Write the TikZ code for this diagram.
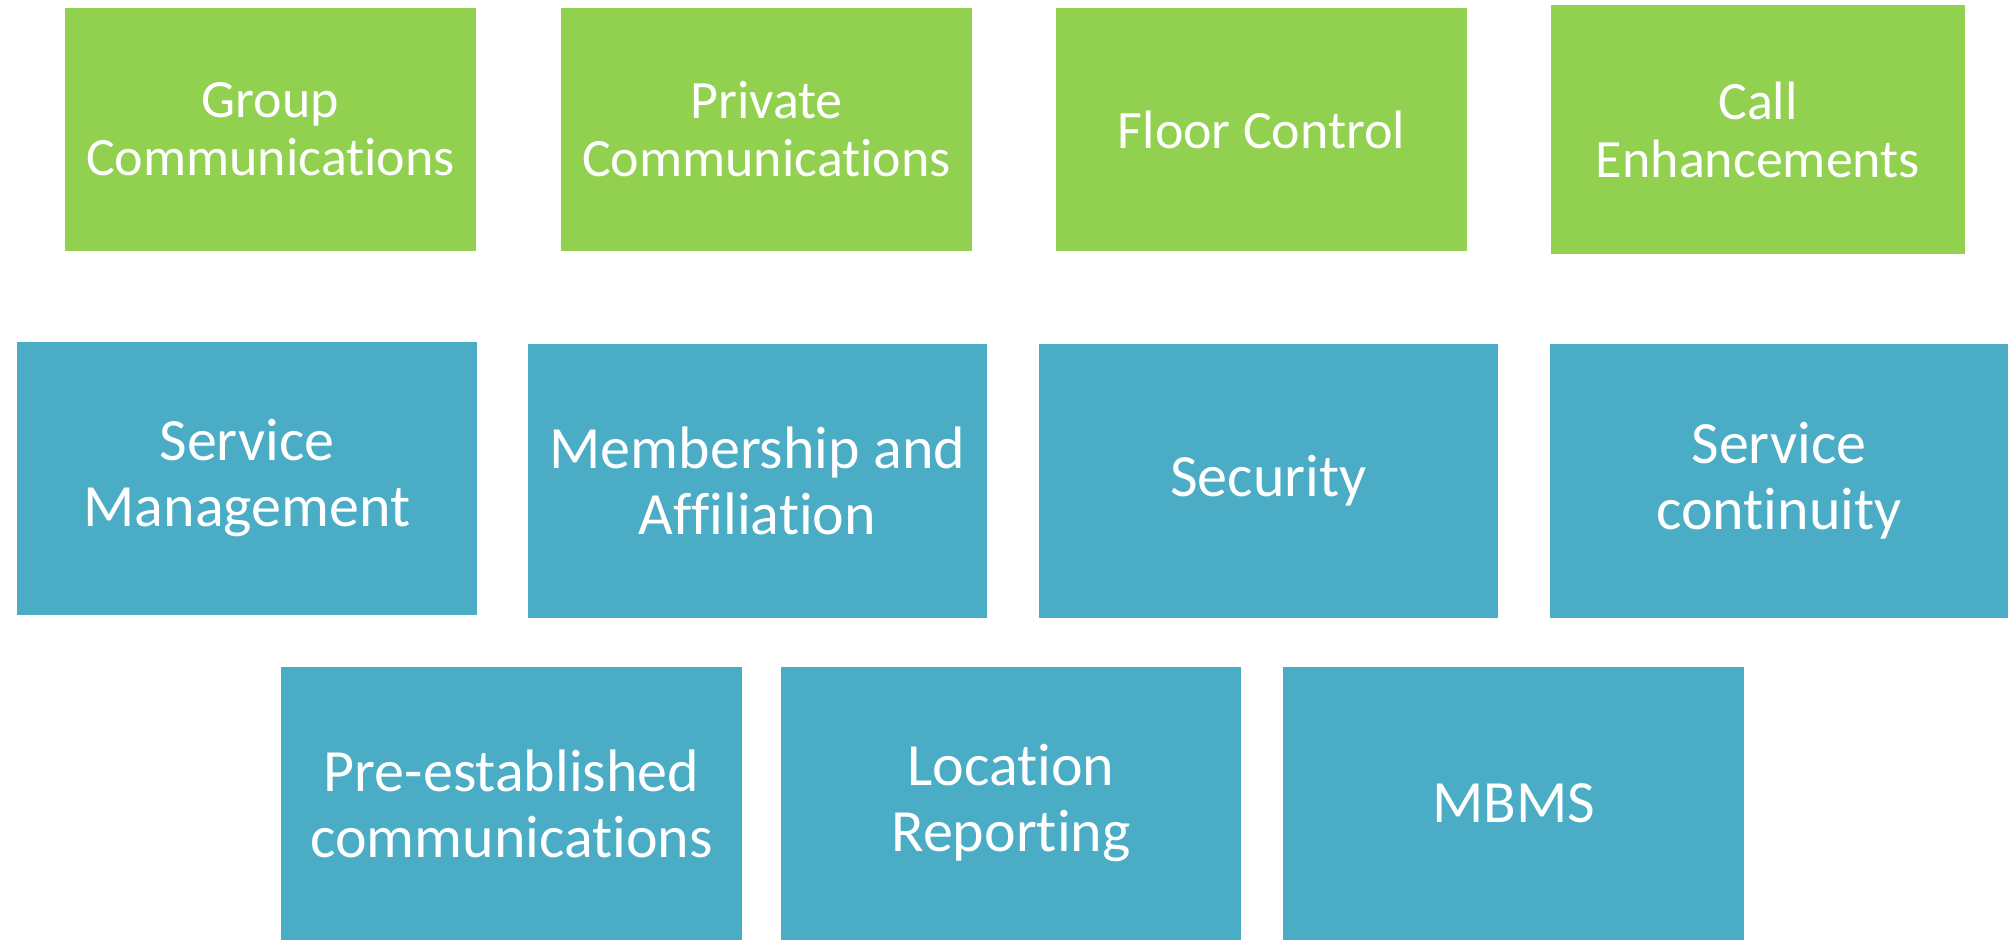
\documentclass[tikz,border=0pt]{standalone}
\usepackage{fontspec}
\setmainfont[Ligatures={NoCommon}]{Carlito}
\definecolor{boxgreen}{HTML}{92D050}
\definecolor{boxblue}{HTML}{4BACC6}
\begin{document}
\begin{tikzpicture}[x=1pt,y=-1pt,
  gbox/.style={rectangle, fill=boxgreen, draw=none, inner sep=0pt, text=white, align=center,
    font=\fontsize{54}{58}\selectfont},
  bbox/.style={rectangle, fill=boxblue, draw=none, inner sep=0pt, text=white, align=center,
    font=\fontsize{60}{66}\selectfont}]
\useasboundingbox[fill=white] (0,0) rectangle (2008,940);
% row 1
\node[gbox, minimum width=411pt, minimum height=243pt] (group) at (270.5,129.5) {Group\\Communications};
\node[gbox, minimum width=411pt, minimum height=243pt] (private) at (766.5,129.5) {Private\\Communications};
\node[gbox, minimum width=411pt, minimum height=243pt] (floor) at (1261.5,129.5) {Floor Control};
\node[gbox, minimum width=414pt, minimum height=249pt] (call) at (1758,129.5) {Call\\Enhancements};
% row 2
\node[bbox, minimum width=460pt, minimum height=273pt] (svcmgmt) at (247,478.5) {Service\\Management};
\node[bbox, minimum width=459pt, minimum height=274pt] (member) at (757.5,481) {Membership and\\Affiliation};
\node[bbox, minimum width=459pt, minimum height=274pt] (security) at (1268.5,481) {Security};
\node[bbox, minimum width=458pt, minimum height=274pt] (contin) at (1779,481) {Service\\continuity};
% row 3
\node[bbox, minimum width=461pt, minimum height=273pt] (preest) at (511.5,803.5) {Pre-established\\communications};
\node[bbox, minimum width=460pt, minimum height=273pt] (location) at (1011,803.5) {Location\\Reporting};
\node[bbox, minimum width=461pt, minimum height=273pt] (mbms) at (1513.5,803.5) {MBMS};
\end{tikzpicture}
\end{document}
